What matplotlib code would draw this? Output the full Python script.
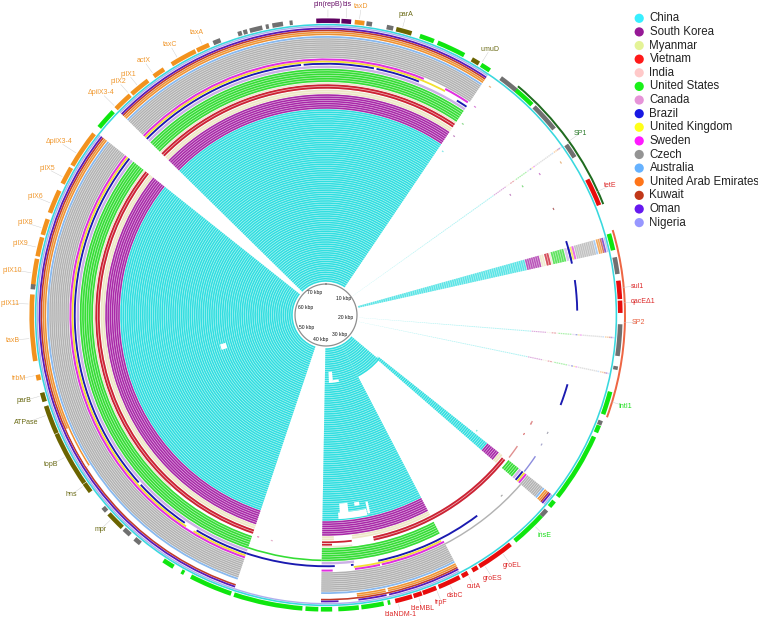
import numpy as np
import matplotlib
matplotlib.use("Agg")
import matplotlib.pyplot as plt

plt.rcParams['font.family'] = ['Liberation Sans', 'DejaVu Sans']

# ---------- data ----------
countries = ["China", "South Korea", "Myanmar", "Vietnam", "India", "United States", "Canada", "Brazil",
             "United Kingdom", "Sweden", "Czech", "Australia", "United Arab Emirates", "Kuwait", "Oman", "Nigeria"]
legend_colors = ["#22EEFF", "#8B008B", "#E2F28C", "#FF0000", "#FFC4C4", "#00F000", "#E488D4", "#0000E0",
                 "#FFFF00", "#FF00FF", "#888888", "#55AAFF", "#FF6600", "#BB2200", "#5500EE", "#8C8CFF"]
ring_colors = ["#30DEE0", "#A828A8", "#EDE6C4", "#CC2233", "#EFE3D0", "#35DD35", "#CBB0E6", "#1A1AB0",
               "#F2E030", "#E030E0", "#B2B2B2", "#88B8EE", "#EE9030", "#C23A28", "#5A18B8", "#AEAEEE"]
line_counts = [80, 7, 2, 2, 1, 6, 1, 1, 1, 1, 10, 1, 2, 1, 1, 1]
ring_inner = [33, 206, 221, 226, 231, 232.8, 247, 250.3, 252.6, 254.6, 257, 277.2, 279.6, 283.8, 285.6, 288]
ring_outer = [206, 221, 225.6, 231, 232.6, 246.5, 249.4, 252.2, 254.4, 256.6, 277, 279, 283.6, 285.4, 287.4, 289.4]

A = (-45.5, 34)
B = (198.5, 308.5)
C = (152.5, 181)
D = (128.5, 131)
E = (74.4, 77.4)
F = (130, 152.5)
coverage = [
    [A, B, C, D, E, F],
    [A, B, C, D, E],
    [A, B, (152.5, 167.6), (167.6, 173.3), (178, 181), D, E],
    [A, B, (129, 168), E],
    [A, (222, 308.5), (173.5, 181), E],
    [A, B, C, D, E],
    [A, B, (173.5, 181), D, E],
    [(-45.5, -5.7), (-5.1, 11), (11.6, 21.7), (31.4, 34), (198.5, 211), (214.2, 227.5), (228.2, 308.5),
     (178, 198.5), (143, 168), (173.7, 174.3), D, E, (72.9, 78.2), (82, 89), (106, 111)],
    [(-45.5, 28), (198.5, 211.5), (213.5, 308.5), (153, 173.7), D, E],
    [(-45.5, 22.5), (27.8, 33.7), B, (152.5, 167.4), (167.8, 173.5), (178.5, 181), D, E],
    [A, B, C, D, E],
    [A, B, C, D, E],
    [A, (237.6, 308.5), (152.5, 167.3), (167.8, 173.7), D, E],
    [A, B, C, D, E],
    [A, B, (152.5, 167.3), (167.8, 173.5), (177.5, 181), D, E],
    [A, (152.5, 308.5), D, E],
]
# (country index, line index, start, end): arcs held by a single line
line_arcs = [(3, 0, 173.5, 181), (3, 1, 178.5, 181), (5, 5, 181, 198.5), (10, 0, 131, 152.5)]
# (r0, r1, start, end): holes in the coverage
holes = [(198, 204.5, 168.3, 176.5), (189, 199, 173.5, 176), (189.5, 193, 170, 171.5), (191, 203, 167.4, 168.1),
         (57, 68, 174, 177.5), (65.5, 68, 169, 174), (104, 110, 251.5, 254.5), (281.5, 283.7, 237.6, 246.3)]
trace_angles = [54.5, 94.5, 101.7]

gene_orange = [(261, 274), (275.7, 281), (281.5, 285.3), (285.8, 289), (290.3, 295), (296.5, 300), (300.5, 308),
               (314.5, 318.3), (318.7, 322.8), (324.2, 326.6), (328.4, 333.7), (334, 336.6), (5.6, 7.5),
               (257.2, 258.3)]
gene_green = [(309.6, 313.7), (18.6, 21.5), (22.3, 28), (31.8, 33.8), (40.1, 44.4), (74, 77.3), (105.1, 109.7),
              (112, 113.5), (114.4, 128.1), (129.2, 130.6), (133, 140.1), (167.4, 167.9), (168.7, 173.1),
              (173.6, 177.6), (178.8, 181), (181.5, 184), (184.6, 198.2), (198.8, 207.3), (208.8, 209.4),
              (211.2, 213.5)]
gene_grey = [(275, 276), (337.5, 339), (342.6, 343.4), (343.7, 344.5), (345, 347.5), (348.2, 348.8), (349.5, 351.6),
             (352.9, 353.5), (7.9, 9), (11.9, 13.2), (36.4, 40.2), (45, 50.8), (54.7, 57.6), (78.7, 82), (91.8, 98),
             (100, 100.7), (111, 111.9), (131.5, 133), (219.1, 220.5), (221.7, 223.3), (228.2, 229.2)]
gene_olive = [(13.8, 16.9), (29.7, 31.3), (223.8, 227.5), (233.1, 235.1), (235.2, 246.2), (246.3, 252), (252.9, 254.7)]
gene_purple = [(358.1, 362.7), (3, 4.9)]
gene_red = [(62.6, 68.1), (83.3, 86.9), (87.2, 89.6), (141.2, 148.6), (149, 150.2), (151.2, 152.5), (153, 157.5),
            (158, 160.8), (161, 162.7), (163, 166.4)]
region_sp1 = (40, 68.2)
region_sp2 = (73.5, 110)

speck_angles = [35.7, 35.6, 35.6, 35.6, 35.5, 57, 56.6, 56.8, 56.9, 65, 127.5, 121, 118, 121, 135.8, 197, 193.5, 117.8]
speck_radii = [281, 256, 235, 220, 201, 280, 256, 235, 220, 251, 190, 231, 251, 251.5, 252, 232, 232, 232]
speck_colors = ["#E8A060", "#D060D0", "#70D070", "#B060B0", "#60E0E0", "#E0A060", "#C060C0", "#60D060", "#B060B0",
                "#A04040", "#50E0D0", "#D04040", "#9090A0", "#9090C0", "#909090", "#E060A0", "#E0A0C0", "#E08080"]
faint_arcs = [(124, 128.3, 252.6, "#8C8CDD"), (124.4, 127.9, 232, "#E09090"), (117.2, 118.2, 232, "#E09090")]

tick_labels = ["10 kbp", "20 kbp", "30 kbp", "40 kbp", "50 kbp", "60 kbp", "70 kbp"]
tick_x = [343.3, 345.7, 340, 320.7, 306.7, 305.3, 314.7]
tick_y = [298.3, 317.3, 334.3, 339, 327.3, 307.7, 292.7]

ORANGE, OLIVE, PURPLE, RED, GREEN, DKGREEN, SP2C = "#F0982E", "#6A6A14", "#650A65", "#DD2828", "#18DD18", "#2A7A2A", "#E86040"
gene_labels = ["pin(repB)", "bis", "taxD", "taxA", "taxC", "actX", "pilX1", "pilX2", "ΔpilX3-4", "ΔpilX3-4", "pilX5",
               "pilX6", "pilX8", "pilX9", "pilX10", "pilX11", "taxB", "trbM", "parB", "ATPase", "topB", "hns", "mpr",
               "parA", "umuD", "SP1", "tetE", "sul1", "qacEΔ1", "SP2", "IntI1", "insE", "groEL", "groES", "cutA",
               "dsbC", "trpF", "bleMBL", "blaNDM-1"]
gene_label_x = [328, 347, 361, 196.7, 170, 144, 128.3, 118.3, 100.7, 58.7, 47.7, 35, 25.3, 20, 12.7, 10, 12.7, 18.7, 24,
                26, 50.7, 71.7, 100.7, 406, 490, 580, 610, 637.3, 643.3, 638.7, 625, 544.3, 511.7, 492.7, 474, 455,
                441.7, 422.3, 401]
gene_label_y = [4.5, 5, 6.7, 32.3, 45, 61, 74.3, 81.7, 92.3, 141.7, 169, 196.7, 222.7, 243.3, 270, 303.3, 340, 379, 400.7,
                422.7, 465, 494.3, 529.3, 15, 49.3, 133.3, 185.7, 286, 301.7, 322.7, 406, 535.7, 565.7, 578.3, 586,
                595.7, 602.7, 608.3, 614.3]
gene_label_colors = [PURPLE, PURPLE, ORANGE] + [ORANGE] * 14 + [ORANGE, OLIVE, OLIVE, OLIVE, OLIVE, OLIVE, OLIVE, OLIVE,
                     DKGREEN, RED, RED, RED, SP2C, GREEN, GREEN] + [RED] * 7

# ---------- layout ----------
W, H = 758, 618
CX, CY = 326.0, 315.0
RMAX = 326.0
fig = plt.figure(figsize=(W / 100, H / 100), dpi=100, facecolor="white")
ax = fig.add_axes([(CX - RMAX) / W, 1 - (CY + RMAX) / H, 2 * RMAX / W, 2 * RMAX / H], projection="polar")
ax.set_theta_zero_location("N")
ax.set_theta_direction(-1)
ax.set_rlim(0, RMAX)
ax.axis("off")


def arc(a0, a1, r0, r1, color, alpha=1.0, z=2):
    ax.bar(np.radians((a0 + a1) / 2), r1 - r0, width=np.radians(a1 - a0), bottom=r0,
           color=color, alpha=alpha, linewidth=0, zorder=z, align="center")


def line_r(k, j):
    pitch = (ring_outer[k] - ring_inner[k]) / line_counts[k]
    rc = ring_inner[k] + (j + 0.5) * pitch
    h = pitch * 0.72 if line_counts[k] > 1 else pitch
    return rc - h / 2, rc + h / 2


def usable(k, a, r0, r1):
    if a == D and r0 < 66:
        return False
    if k == 0 and a == F and r1 > 69.5:
        return False
    return True


for k, arcs in enumerate(coverage):
    # pale wash under the lines of a multi-line ring
    if line_counts[k] > 1:
        for a in arcs:
            lo = line_r(k, 0)[0]
            hi = line_r(k, line_counts[k] - 1)[1]
            if k == 0 and a == D:
                lo = 66
            if k == 0 and a == F:
                hi = 69.5
            arc(a[0], a[1], lo, hi, ring_colors[k], 0.3, z=1.5)
    for j in range(line_counts[k]):
        r0, r1 = line_r(k, j)
        for a in arcs:
            if usable(k, a, r0, r1):
                arc(a[0], a[1], r0, r1, ring_colors[k], 0.7 if a == E else 1.0)
        for t in trace_angles:
            arc(t - 0.15, t + 0.15, r0, r1, ring_colors[k], 0.4)

for k, j, a0, a1 in line_arcs:
    r0, r1 = line_r(k, j)
    arc(a0, a1, r0, r1, ring_colors[k])

for r0, r1, a0, a1 in holes:
    arc(a0, a1, r0, r1, "white", z=3)

# backbone, regions and genes
arc(0, 360, 289.6, 291.2, "#38D8DE", z=4)
arc(*region_sp1, 297.6, 299.6, "#1F6B1F", z=4)
arc(*region_sp2, 298, 300, "#EE6644", z=4)
for arcs, col in [(gene_orange, "#F2921E"), (gene_green, "#0FE60F"), (gene_grey, "#707070"),
                  (gene_olive, "#6B6400"), (gene_purple, "#5E0060"), (gene_red, "#E80C0C")]:
    for a0, a1 in arcs:
        arc(a0, a1, 292, 296.6, col, z=4)

for a, r, c in zip(speck_angles, speck_radii, speck_colors):
    arc(a - 0.25, a + 0.25, r - 0.6, r + 0.6, c, 0.8)
for a0, a1, r, c in faint_arcs:
    arc(a0, a1, r - 0.7, r + 0.7, c)

# inner circle
theta = np.radians(np.arange(0, 361))
ax.fill(theta, np.full_like(theta, 31.0), color="white", zorder=4.5)
ax.plot(theta, np.full_like(theta, 31.0), color="#8E8E8E", lw=0.9, zorder=5)

# overlay in pixel coordinates
ov = fig.add_axes([0, 0, 1, 1], facecolor="none")
ov.set_xlim(0, W)
ov.set_ylim(H, 0)
ov.axis("off")

for s, x, y in zip(tick_labels, tick_x, tick_y):
    ov.text(x, y, s, fontsize=3.6, ha="center", va="center", color="#111111")
for s, x, y, c in zip(gene_labels, gene_label_x, gene_label_y, gene_label_colors):
    ov.text(x, y, s, fontsize=5.0, ha="center", va="center", color=c)
    # faint leader from the gene track towards the label
    dx, dy = x - CX, y - CY
    dist = np.hypot(dx, dy)
    half = 0.0028 * len(s) * 100 * 1.1
    r_end = dist - half * 1.2 - 2
    if r_end > 299:
        ov.plot([CX + dx / dist * 298, CX + dx / dist * r_end], [CY + dy / dist * 298, CY + dy / dist * r_end],
                color="#C8C8C8", lw=0.3, zorder=1)

legend_y = 18.3 + 13.62 * np.arange(len(countries))
ov.scatter(np.full(len(countries), 639.2), legend_y, s=44, c=legend_colors, linewidths=0, alpha=0.9)
for s, y in zip(countries, legend_y):
    ov.text(649.5, y, s, fontsize=8.3, ha="left", va="center", color="#222222")

fig.savefig("out.png", dpi=100, facecolor="white")
